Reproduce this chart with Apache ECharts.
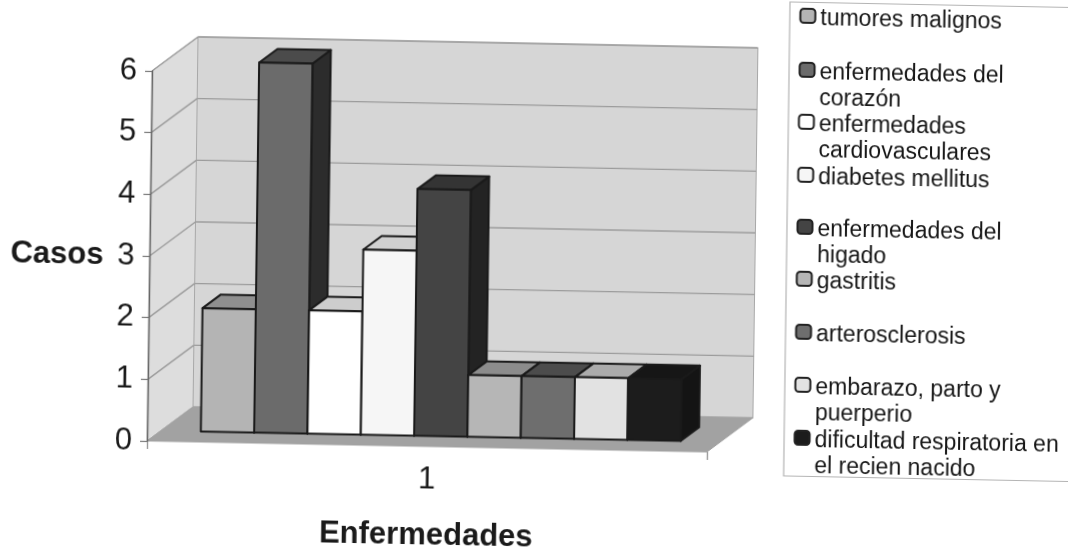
<!DOCTYPE html>
<html><head><meta charset="utf-8">
<style>html,body{margin:0;padding:0;background:#fff;overflow:hidden;width:1068px;height:547px}
#c{position:absolute;left:0;top:0;width:1120px;height:640px;transform-origin:0 0;transform:matrix(1,0.0196,-0.0135,1,0.4,-30)}</style>
<script src="https://cdn.jsdelivr.net/npm/echarts@6/dist/echarts.min.js"></script>
</head><body><div id="c"></div>
<script>
const categories = ['1'];
const diseases = ['tumores malignos','enfermedades del corazón','enfermedades cardiovasculares','diabetes mellitus','enfermedades del higado','gastritis','arterosclerosis','embarazo, parto y puerperio','dificultad respiratoria en el recien nacido'];
const wrapped = ['tumores malignos','enfermedades del\ncorazón','enfermedades\ncardiovasculares','diabetes mellitus','enfermedades del\nhigado','gastritis','arterosclerosis','embarazo, parto y\npuerperio','dificultad respiratoria en\nel recien nacido'];
const values = [2,6,2,3,4,1,1,1,1];
const yTicks = [0,1,2,3,4,5,6];
const frontColors = ['#b4b4b4','#6b6b6b','#ffffff','#f6f6f6','#444444','#b6b6b6','#6e6e6e','#e2e2e2','#1c1c1c'];
const topColors   = ['#8f8f8f','#4b4b4b','#cdcdcd','#d0d0d0','#343434','#8c8c8c','#4c4c4c','#ababab','#161616'];
const sideColors  = ['#666666','#2c2c2c','#9a9a9a','#a0a0a0','#232323','#666666','#303030','#888888','#141414'];
const legendIconY = [30,84,136,189,241,293,346,399,452];

const DX=45.5, DY=35, OUT='#1a1a1a', LH=26, SHIFT=6;
function poly(pts,fill,stroke,lw){return {type:'polygon',shape:{points:pts},style:{fill:fill,stroke:stroke||fill,lineWidth:lw===undefined?1:lw,lineJoin:'round'}};}
function wallItem(params,api){
  const a=api.coord([0,0]), b=api.coord([0,6]), W=api.size([1,0])[0];
  const x0=a[0]-W/2, x1=a[0]+W/2, y0=a[1], y6=b[1];
  return {type:'group',children:[
    poly([[x0+DX,y0-DY],[x1+DX,y0-DY],[x1+DX,y6-DY],[x0+DX,y6-DY]],'#d6d6d6','#a8a8a8',1),
    poly([[x0,y0],[x0+DX,y0-DY],[x0+DX,y6-DY],[x0,y6]],'#dddddd','#a8a8a8',1),
    poly([[x0,y0],[x1,y0],[x1+DX,y0-DY],[x0+DX,y0-DY]],'#a2a2a2','#a2a2a2',1)
  ]};
}
function gridItem(params,api){
  const v=api.value(0), p=api.coord([0,v]), W=api.size([1,0])[0];
  const x0=p[0]-W/2, x1=p[0]+W/2, y=p[1];
  const st={stroke:'#9c9c9c',lineWidth:1.4,fill:'none'};
  return {type:'group',children:[
    {type:'line',shape:{x1:x0,y1:y,x2:x0+DX,y2:y-DY},style:st},
    {type:'line',shape:{x1:x0+DX,y1:y-DY,x2:x1+DX,y2:y-DY},style:st}
  ]};
}
function barItem(i){return function(params,api){
  const c=api.coord([0,0]), t=api.coord([0,api.value(1)]), W=api.size([1,0])[0];
  const bw=W/10.5, fx=DX*0.3, fy=DY*0.3, bx=DX*0.4, by=DY*0.4;
  const x=c[0]-W/2+bw*(0.75+i)+fx, y0=c[1]-fy, y1=t[1]-fy, xr=x+bw;
  return {type:'group',children:[
    poly([[xr,y0],[xr+bx,y0-by],[xr+bx,y1-by],[xr,y1]],sideColors[i],OUT,2),
    poly([[x,y1],[xr,y1],[xr+bx,y1-by],[x+bx,y1-by]],topColors[i],OUT,2),
    poly([[x,y0],[xr,y0],[xr,y1],[x,y1]],frontColors[i],OUT,2)
  ]};
};}

const series=[
  {type:'custom',name:'_paredes',silent:true,clip:false,data:[[0,0]],renderItem:wallItem,z:1},
  {type:'custom',name:'_rejilla',silent:true,clip:false,data:yTicks.slice(1).map(v=>[v]),encode:{y:0},renderItem:gridItem,z:1}
].concat(diseases.map((n,i)=>({
  type:'custom',name:n,silent:true,clip:false,z:2,
  data:[[0,values[i]]],encode:{x:0,y:1},renderItem:barItem(i),
  itemStyle:{color:frontColors[i]}
})));

const legends=diseases.map((n,i)=>{
  const lines=wrapped[i].split('\n'), two=lines.length>1;
  const blank=two?LH+SHIFT:SHIFT, total=blank+LH*lines.length;
  return {
    data:[{name:n,icon:'roundRect',itemStyle:{color:frontColors[i],borderColor:'#222',borderWidth:2}}],
    left:799.5, top:legendIconY[i]-total/2, itemWidth:15, itemHeight:14, itemGap:0, padding:0,
    orient:'vertical', selectedMode:false,
    formatter:()=>'{b| }\n'+lines.map(l=>'{t|'+l+'}').join('\n'),
    textStyle:{fontFamily:'Liberation Sans',fontSize:23,color:'#161616',
      rich:{t:{fontFamily:'Liberation Sans',fontSize:23,color:'#161616',lineHeight:LH},
            b:{fontSize:1,lineHeight:blank,height:blank}}}
  };
});

const chart=echarts.init(document.getElementById('c'),null,{renderer:'canvas'});
chart.setOption({
  animation:false,
  backgroundColor:'#ffffff',
  grid:{left:153,top:98,width:560,height:370},
  xAxis:{type:'category',data:categories,name:'Enfermedades',nameLocation:'middle',nameGap:74,
    nameTextStyle:{fontFamily:'Liberation Sans',fontWeight:'bold',fontSize:31,color:'#1a1a1a'},
    axisLine:{show:false},axisTick:{show:true,length:8,lineStyle:{color:'#999',width:1.4}},
    axisLabel:{fontFamily:'Liberation Sans',fontSize:31,color:'#1a1a1a',margin:18},splitLine:{show:false}},
  yAxis:{type:'value',min:0,max:6,interval:1,name:'Casos',nameLocation:'middle',nameRotate:0,nameGap:46,
    nameTextStyle:{fontFamily:'Liberation Sans',fontWeight:'bold',fontSize:31,color:'#1a1a1a',align:'right'},
    z:5,axisLine:{show:true,lineStyle:{color:'#666',width:1.4}},axisTick:{show:true,length:7,lineStyle:{color:'#777',width:1.2}},
    axisLabel:{fontFamily:'Liberation Sans',fontSize:31,color:'#1a1a1a',margin:15},splitLine:{show:false}},
  legend:legends,
  graphic:[{type:'rect',z:-1,silent:true,shape:{x:790,y:16.5,width:320,height:474},style:{fill:'#fff',stroke:'#b4b4b4',lineWidth:1.2}}],
  series:series
});
</script></body></html>
